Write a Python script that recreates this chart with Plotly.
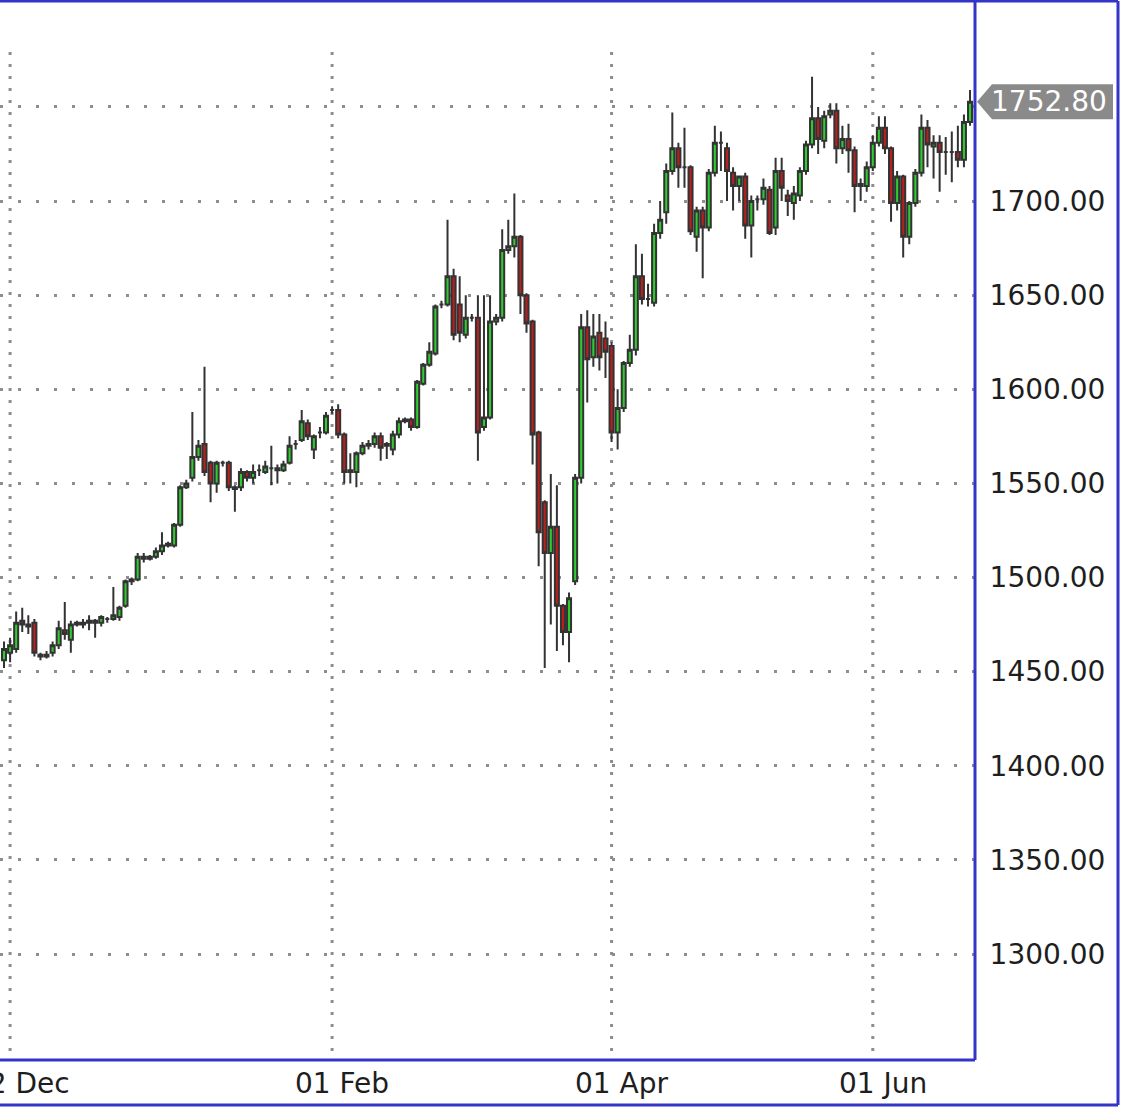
import plotly.graph_objects as go

# ---------------- data ----------------
opens = [1456, 1460, 1462, 1477, 1475, 1476, 1459, 1458, 1460, 1464,
         1472, 1467, 1475, 1476, 1476, 1476, 1476, 1478, 1478, 1479,
         1485, 1498, 1499, 1511, 1510, 1511, 1514, 1517, 1517, 1528,
         1548, 1553, 1564, 1571, 1561, 1550, 1561, 1561, 1548, 1548,
         1556, 1553, 1557, 1556, 1558, 1558, 1557, 1561, 1571, 1573,
         1582, 1568, 1577, 1577, 1589, 1589, 1576, 1556, 1556, 1566,
         1570, 1571, 1575, 1570, 1568, 1576, 1583, 1584, 1580, 1603,
         1613, 1619, 1645, 1645, 1660, 1645, 1629, 1638, 1638, 1580,
         1585, 1636, 1638, 1674, 1676, 1681, 1650, 1636, 1577, 1540,
         1513, 1527, 1485, 1471, 1498, 1553, 1633, 1617, 1630, 1627,
         1623, 1577, 1590, 1614, 1621, 1660, 1648, 1646, 1683, 1694,
         1716, 1728, 1718, 1718, 1681, 1695, 1686, 1715, 1731, 1728,
         1715, 1708, 1713, 1687, 1701, 1701, 1706, 1686, 1716, 1703,
         1699, 1703, 1716, 1730, 1744, 1732, 1746, 1748, 1728, 1733,
         1727, 1708, 1708, 1718, 1731, 1739, 1728, 1699, 1713, 1681,
         1699, 1715, 1739, 1729, 1731, 1726, 1726, 1726, 1722, 1742]
highs = [1466, 1468, 1482, 1484, 1480, 1478, 1460, 1461, 1466, 1477,
         1487, 1477, 1477, 1478, 1480, 1478, 1480, 1479, 1495, 1485,
         1499, 1500, 1513, 1513, 1512, 1516, 1524, 1519, 1529, 1549,
         1552, 1588, 1573, 1612, 1562, 1562, 1562, 1562, 1549, 1558,
         1557, 1560, 1560, 1562, 1570, 1560, 1562, 1575, 1573, 1589,
         1584, 1576, 1580, 1588, 1591, 1592, 1577, 1566, 1567, 1572,
         1573, 1577, 1577, 1572, 1578, 1585, 1585, 1585, 1605, 1614,
         1625, 1645, 1647, 1690, 1664, 1660, 1650, 1640, 1650, 1650,
         1650, 1640, 1685, 1690, 1704, 1682, 1651, 1637, 1578, 1541,
         1555, 1549, 1486, 1492, 1555, 1640, 1642, 1640, 1640, 1636,
         1625, 1600, 1615, 1629, 1677, 1672, 1656, 1688, 1700, 1720,
         1747, 1731, 1739, 1719, 1697, 1697, 1717, 1740, 1737, 1731,
         1718, 1713, 1715, 1703, 1703, 1712, 1708, 1723, 1723, 1706,
         1708, 1718, 1732, 1766, 1750, 1748, 1752, 1752, 1740, 1741,
         1729, 1712, 1721, 1735, 1745, 1745, 1729, 1716, 1714, 1700,
         1717, 1746, 1743, 1735, 1735, 1734, 1737, 1740, 1746, 1759]
lows = [1452, 1455, 1460, 1471, 1470, 1458, 1456, 1457, 1458, 1462,
        1467, 1460, 1474, 1473, 1472, 1468, 1474, 1476, 1477, 1477,
        1484, 1496, 1498, 1508, 1509, 1510, 1512, 1516, 1516, 1527,
        1547, 1551, 1562, 1554, 1540, 1545, 1559, 1546, 1535, 1546,
        1551, 1550, 1554, 1555, 1549, 1550, 1556, 1560, 1568, 1572,
        1573, 1563, 1574, 1576, 1587, 1574, 1550, 1550, 1548, 1565,
        1568, 1569, 1562, 1563, 1565, 1574, 1582, 1578, 1579, 1602,
        1612, 1618, 1643, 1644, 1626, 1625, 1627, 1636, 1562, 1578,
        1584, 1634, 1636, 1672, 1670, 1640, 1630, 1560, 1506, 1452,
        1475, 1461, 1464, 1455, 1496, 1550, 1593, 1612, 1610, 1606,
        1572, 1568, 1588, 1612, 1618, 1645, 1644, 1644, 1680, 1688,
        1714, 1707, 1707, 1682, 1673, 1659, 1684, 1713, 1716, 1700,
        1695, 1700, 1680, 1670, 1695, 1698, 1682, 1682, 1700, 1692,
        1690, 1700, 1714, 1728, 1725, 1728, 1744, 1720, 1725, 1715,
        1694, 1700, 1705, 1716, 1729, 1725, 1689, 1695, 1670, 1677,
        1697, 1713, 1718, 1712, 1705, 1714, 1710, 1718, 1718, 1740]
closes = [1462, 1464, 1476, 1475, 1474, 1460, 1458, 1459, 1464, 1473,
          1470, 1475, 1476, 1475, 1477, 1477, 1479, 1478, 1480, 1484,
          1498, 1499, 1511, 1510, 1511, 1514, 1517, 1518, 1528, 1548,
          1550, 1564, 1570, 1556, 1550, 1561, 1561, 1548, 1547, 1556,
          1553, 1556, 1557, 1559, 1558, 1557, 1560, 1570, 1571, 1583,
          1575, 1575, 1577, 1586, 1589, 1576, 1556, 1557, 1566, 1570,
          1571, 1575, 1569, 1571, 1576, 1583, 1584, 1580, 1604, 1613,
          1620, 1644, 1645, 1660, 1629, 1630, 1638, 1638, 1577, 1585,
          1636, 1638, 1674, 1676, 1681, 1650, 1635, 1576, 1524, 1513,
          1527, 1485, 1471, 1489, 1553, 1633, 1616, 1628, 1617, 1620,
          1577, 1590, 1614, 1621, 1660, 1648, 1648, 1683, 1690, 1716,
          1728, 1718, 1718, 1684, 1695, 1686, 1715, 1731, 1731, 1716,
          1708, 1713, 1687, 1700, 1701, 1707, 1683, 1716, 1707, 1700,
          1704, 1716, 1730, 1744, 1733, 1745, 1748, 1728, 1733, 1727,
          1708, 1709, 1718, 1731, 1739, 1728, 1699, 1713, 1681, 1699,
          1715, 1739, 1730, 1731, 1726, 1726, 1726, 1722, 1742, 1752.8]

bar_index = list(range(len(closes)))
date_tick_bars = [1, 54, 100, 143]
date_tick_labels = ["02 Dec", "01 Feb", "01 Apr", "01 Jun"]
price_ticks = [1300, 1350, 1400, 1450, 1500, 1550, 1600, 1650, 1700, 1750]
price_tick_labels = ["1300.00", "1350.00", "1400.00", "1450.00", "1500.00",
                     "1550.00", "1600.00", "1650.00", "1700.00", ""]
last_price = closes[-1]

# ---------------- layout geometry ----------------
W, H = 1124, 1109
PLOT_R, PLOT_B = 975, 1060          # plot area right / bottom edge (px)
FONT = "DejaVu Sans"
FRAME = "#3434c8"
GRID = "#8e8e8e"


def px_x(px):
    return px / PLOT_R


def px_y(py):
    return (PLOT_B - py) / PLOT_B


fig = go.Figure(go.Candlestick(
    x=bar_index, open=opens, high=highs, low=lows, close=closes,
    increasing=dict(line=dict(color="#333333", width=2), fillcolor="#2fcc2f"),
    decreasing=dict(line=dict(color="#333333", width=2), fillcolor="#b81f1f"),
    whiskerwidth=0, showlegend=False,
))

shapes = []
# vertical dotted grid lines (start a little below the top of the plot)
for b in date_tick_bars:
    shapes.append(dict(type="line", xref="x", yref="paper", x0=b, x1=b,
                       y0=px_y(52), y1=0, layer="below",
                       line=dict(color=GRID, width=3, dash="3px,9px")))
# plot frame (right + bottom)
shapes.append(dict(type="line", xref="paper", yref="paper", x0=1, x1=1,
                   y0=px_y(0), y1=0, line=dict(color=FRAME, width=3)))
shapes.append(dict(type="line", xref="paper", yref="paper", x0=px_x(-5), x1=1,
                   y0=0, y1=0, line=dict(color=FRAME, width=3)))
# outer frame
shapes.append(dict(type="line", xref="paper", yref="paper", x0=px_x(-5), x1=px_x(1118),
                   y0=px_y(1), y1=px_y(1), line=dict(color=FRAME, width=3)))
shapes.append(dict(type="line", xref="paper", yref="paper", x0=px_x(1118), x1=px_x(1118),
                   y0=px_y(1), y1=px_y(1105), line=dict(color=FRAME, width=3)))
shapes.append(dict(type="line", xref="paper", yref="paper", x0=px_x(-5), x1=px_x(1118),
                   y0=px_y(1105), y1=px_y(1105), line=dict(color=FRAME, width=3)))
# current price tag
half = 17.5 / 1.8825
tag_path = (f"M {px_x(977)} {last_price} L {px_x(992)} {last_price + half} "
            f"L {px_x(1113)} {last_price + half} L {px_x(1113)} {last_price - half} "
            f"L {px_x(992)} {last_price - half} Z")
shapes.append(dict(type="path", xref="paper", yref="y", path=tag_path,
                   fillcolor="#8a8a8a", line=dict(width=0), layer="above"))

annotations = [dict(x=px_x(1109), y=last_price, xref="paper", yref="y",
                    xanchor="right", yanchor="middle",
                    text=f"{last_price:.2f}", showarrow=False,
                    font=dict(family=FONT, size=28, color="white"))]
for b, t in zip(date_tick_bars, date_tick_labels):
    annotations.append(dict(x=b, y=px_y(1083), xref="x", yref="paper", text=t,
                            showarrow=False, xshift=10, yanchor="middle",
                            font=dict(family=FONT, size=28, color="#1e1e1e")))

fig.update_layout(
    width=W, height=H,
    margin=dict(l=0, r=W - PLOT_R, t=0, b=H - PLOT_B),
    paper_bgcolor="white", plot_bgcolor="white",
    shapes=shapes, annotations=annotations,
    boxgap=0.05,
    xaxis=dict(range=[-0.66, 159.82], showgrid=False, zeroline=False,
               showticklabels=False, rangeslider=dict(visible=False),
               showline=False, fixedrange=True),
    yaxis=dict(side="right", range=[1243.7, 1806.8], tickvals=price_ticks,
               ticktext=price_tick_labels, showgrid=True, gridcolor=GRID,
               gridwidth=3, griddash="3px,15px", zeroline=False, showline=False,
               ticks="outside", ticklen=8, tickcolor="rgba(0,0,0,0)",
               tickfont=dict(family=FONT, size=28, color="#1e1e1e"),
               fixedrange=True),
)

fig.write_html("out.html", config={"displayModeBar": False},
               post_script="document.body.style.margin='0px';")
